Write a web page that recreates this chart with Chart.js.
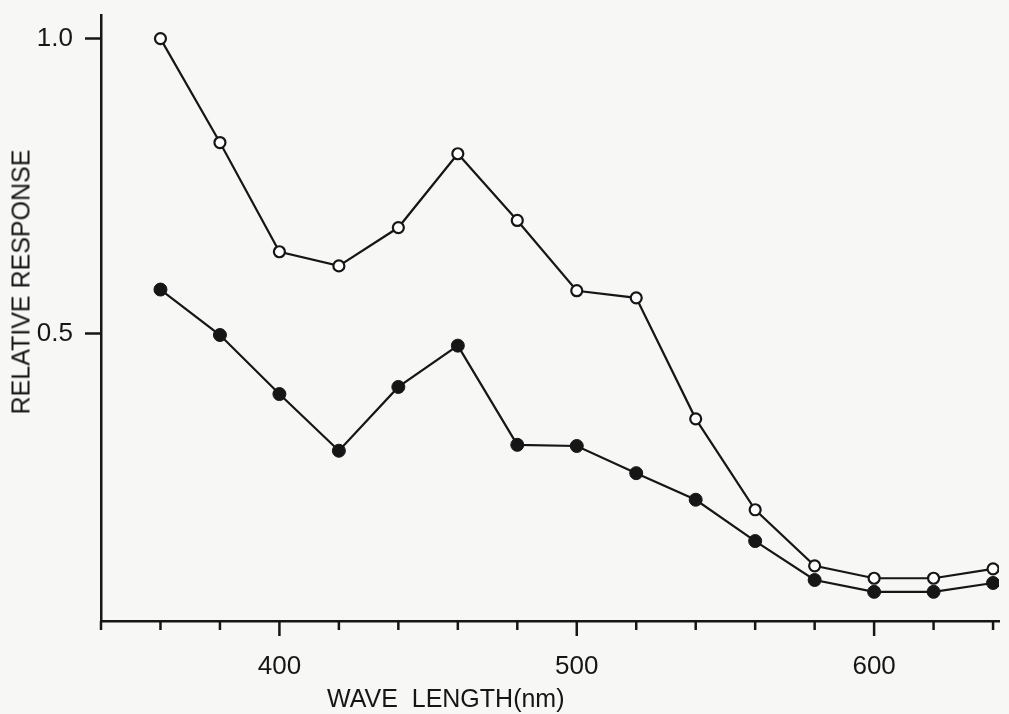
<!DOCTYPE html>
<html>
<head>
<meta charset="utf-8">
<script src="https://cdn.jsdelivr.net/npm/chart.js@4.4.1/dist/chart.umd.min.js"></script>
<style>
  html, body { margin: 0; padding: 0; background: #f7f7f6; }
  #wrap { position: relative; width: 1009px; height: 714px; overflow: hidden;
          font-family: "Liberation Sans", Arial, sans-serif; color: #161616; }
  #wrap canvas { position: absolute; left: 0; top: 0; }
  .ytitle { position: absolute; left: 21px; top: 282px; font-size: 25px; line-height: 25px;
            white-space: nowrap; transform: translate(-50%, -50%) rotate(-90deg); }
  .xtitle { position: absolute; left: 327px; top: 686px; font-size: 25px; line-height: 25px;
            white-space: pre; }
</style>
</head>
<body>
<div id="wrap">
  <canvas id="c" width="1009" height="714"></canvas>
  <div class="ytitle">RELATIVE RESPONSE</div>
  <div class="xtitle">WAVE  LENGTH(nm)</div>
</div>
<script>
// wavelength (nm) of each measured point
const wavelengths = [360, 380, 400, 420, 440, 460, 480, 500, 520, 540, 560, 580, 600, 620, 640];
// open-circle series
const openValues = [1.00, 0.824, 0.639, 0.615, 0.680, 0.805, 0.692, 0.573, 0.561, 0.356, 0.202, 0.107, 0.086, 0.086, 0.102];
// filled-circle series
const filledValues = [0.575, 0.498, 0.398, 0.302, 0.410, 0.480, 0.312, 0.310, 0.264, 0.219, 0.149, 0.083, 0.063, 0.063, 0.078];

// axis ticks
const xTicks = [340, 360, 380, 400, 420, 440, 460, 480, 500, 520, 540, 560, 580, 600, 620, 640];
const xMajorTicks = [400, 500, 600];
const yTicks = [0.5, 1.0];
const yTickLabels = ["0.5", "1.0"];

const INK = "#161616";
const FONT = "'Liberation Sans', Arial, sans-serif";

// tick marks under the x axis: long at the labelled ones, short elsewhere
const axisTicks = {
  id: "axisTicks",
  afterDraw(chart) {
    const s = chart.scales.x;
    const ctx = chart.ctx;
    ctx.save();
    ctx.strokeStyle = INK;
    ctx.lineWidth = 2.5;
    s.ticks.forEach((t) => {
      const x = s.getPixelForValue(t.value);
      const len = xMajorTicks.includes(t.value) ? 15 : 9;
      ctx.beginPath();
      ctx.moveTo(x, s.top);
      ctx.lineTo(x, s.top + len);
      ctx.stroke();
    });
    ctx.restore();
  },
};

const toPoints = (vals) => wavelengths.map((x, i) => ({ x, y: vals[i] }));

new Chart(document.getElementById("c"), {
  type: "line",
  data: {
    datasets: [
      {
        data: toPoints(openValues),
        borderColor: INK,
        borderWidth: 2.2,
        pointRadius: 5.5,
        pointBackgroundColor: "#ffffff",
        pointBorderColor: INK,
        pointBorderWidth: 2.2,
        tension: 0,
      },
      {
        data: toPoints(filledValues),
        borderColor: INK,
        borderWidth: 2.2,
        pointRadius: 6.5,
        pointBackgroundColor: INK,
        pointBorderColor: INK,
        pointBorderWidth: 1,
        tension: 0,
      },
    ],
  },
  options: {
    responsive: false,
    animation: false,
    layout: { padding: { top: 15, right: 10, left: 0, bottom: 0 } },
    plugins: { legend: { display: false }, tooltip: { enabled: false } },
    scales: {
      x: {
        type: "linear",
        min: 340,
        max: 642,
        afterBuildTicks: (s) => { s.ticks = xTicks.map((v) => ({ value: v })); },
        afterFit: (s) => { s.height = 714 - 621; s.paddingLeft = 0; s.paddingRight = 0; },
        ticks: {
          autoSkip: false,
          maxRotation: 0,
          padding: 30,
          color: INK,
          font: { family: FONT, size: 26 },
          callback: (v) => (xMajorTicks.includes(v) ? String(v) : ""),
        },
        grid: { drawOnChartArea: false, drawTicks: false },
        border: { display: true, color: INK, width: 2.5 },
      },
      y: {
        min: 0.0136,
        max: 1.04,
        afterBuildTicks: (s) => { s.ticks = yTicks.map((v) => ({ value: v })); },
        afterFit: (s) => { s.width = 101; s.paddingTop = 0; s.paddingBottom = 0; },
        ticks: {
          padding: 12,
          color: INK,
          font: { family: FONT, size: 26 },
          callback: (v) => yTickLabels[yTicks.indexOf(v)] ?? "",
        },
        grid: { drawOnChartArea: false, drawTicks: true, tickLength: 16, tickColor: INK, tickWidth: 2.5 },
        border: { display: true, color: INK, width: 2.5 },
      },
    },
  },
  plugins: [axisTicks],
});
</script>
</body>
</html>
